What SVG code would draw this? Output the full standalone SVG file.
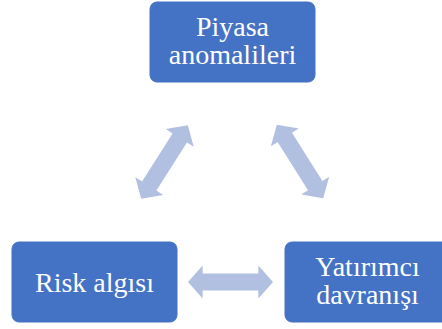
<svg xmlns="http://www.w3.org/2000/svg" xmlns:xlink="http://www.w3.org/1999/xlink" width="442" height="329" viewBox="0 0 442 329">
<style>
.box{fill:#4472C4;stroke:#4472C4;stroke-width:1}
.lbl{fill:#FFFFFF;font-family:"Liberation Serif","Times New Roman",serif;font-size:28px;text-anchor:middle}
.arr{fill:#B1BFE0}
</style>
<defs>
<path id="dbl" d="M-43.5,0 L-28.5,-16.5 L-28.5,-8.5 L28.5,-8.5 L28.5,-16.5 L43.5,0 L28.5,16.5 L28.5,8.5 L-28.5,8.5 L-28.5,16.5 Z"/>
</defs>
<rect width="442" height="329" fill="#FFFFFF"/>
<g id="connectors">
<use xlink:href="#dbl" class="arr" transform="translate(230.5,282) scale(0.977,1)"/>
<use xlink:href="#dbl" class="arr" transform="translate(164.5,162) rotate(-57.6)"/>
<use xlink:href="#dbl" class="arr" transform="translate(300,161.5) rotate(57.8)"/>
</g>
<g id="node-piyasa">
<rect class="box" x="150" y="2" width="165" height="80" rx="7"/>
<text class="lbl" x="232.5" y="36">Piyasa</text>
<text class="lbl" x="232.5" y="64">anomalileri</text>
</g>
<g id="node-risk">
<rect class="box" x="12" y="242" width="165" height="80" rx="7"/>
<text class="lbl" x="94.5" y="292">Risk algısı</text>
</g>
<g id="node-yatirimci">
<rect class="box" x="285" y="242" width="165" height="80" rx="7"/>
<text class="lbl" x="367.5" y="276">Yatırımcı</text>
<text class="lbl" x="367.5" y="304">davranışı</text>
</g>
</svg>
